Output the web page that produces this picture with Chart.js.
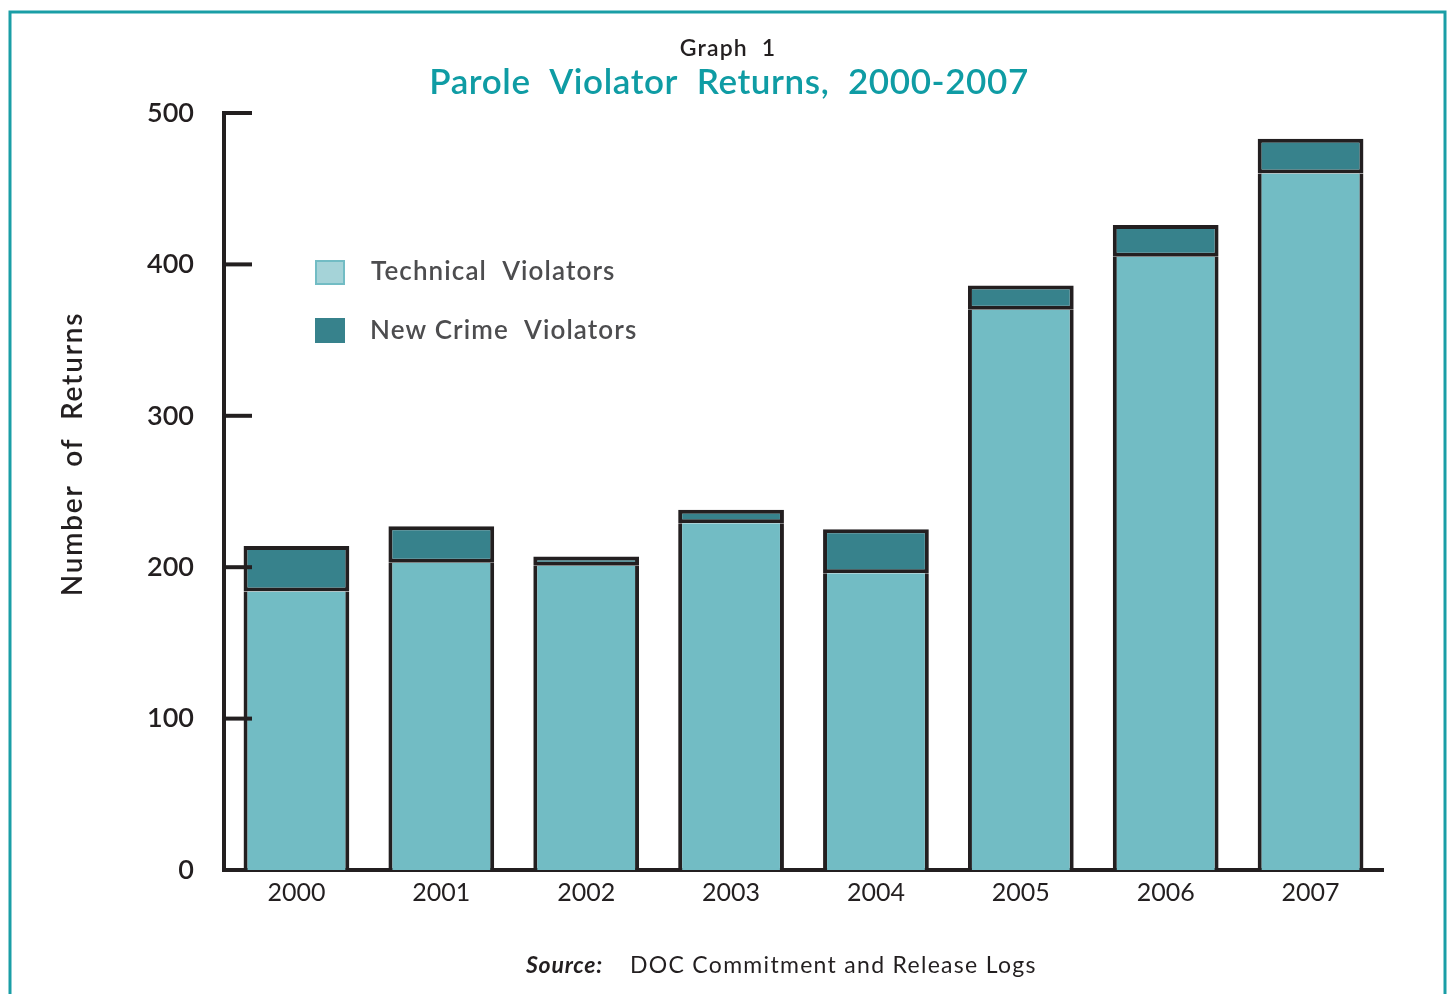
<!DOCTYPE html>
<html>
<head>
<meta charset="utf-8">
<title>Parole Violator Returns, 2000-2007</title>
<script src="https://cdn.jsdelivr.net/npm/chart.js@4.4.1/dist/chart.umd.min.js"></script>
<style>
  html, body { margin: 0; background: #fff; }
  canvas { display: block; }
</style>
</head>
<body>
<canvas id="chart" width="1453" height="994"></canvas>
<script>
const years = ['2000', '2001', '2002', '2003', '2004', '2005', '2006', '2007'];
const technical = [184, 203, 201, 229, 196, 370, 405, 460];
const newCrime = [30, 24, 6, 9, 29, 16, 21, 23];
const yTicks = [0, 100, 200, 300, 400, 500];

const ink = '#231f20';
const techFill = '#72bcc4';
const crimeFill = '#37828c';
const teal = '#0f9ca4';
const font = 'Lato, "Open Sans", sans-serif';

// frame, titles, legend, source line and the inward ticks on the y axis
const decorations = {
  id: 'decorations',
  beforeDraw(chart) {
    const ctx = chart.ctx;
    ctx.save();
    ctx.fillStyle = '#fff';
    ctx.fillRect(0, 0, chart.width, chart.height);
    ctx.strokeStyle = '#1a9ea6';
    ctx.lineWidth = 3;
    ctx.strokeRect(10, 12, 1435, 1000);
    ctx.restore();
  },
  afterDraw(chart) {
    const ctx = chart.ctx;
    const area = chart.chartArea;
    const y = chart.scales.y;
    ctx.save();

    ctx.strokeStyle = ink;
    ctx.lineWidth = 4;
    yTicks.forEach(v => {
      if (v === 0) return;
      const py = y.getPixelForValue(v);
      ctx.beginPath();
      ctx.moveTo(area.left, py);
      ctx.lineTo(area.left + 28, py);
      ctx.stroke();
    });

    ctx.textAlign = 'center';
    ctx.textBaseline = 'middle';
    ctx.fillStyle = ink;
    ctx.font = '600 23px ' + font;
    ctx.letterSpacing = '1.2px';
    ctx.fillText('Graph  1', 728, 49);
    ctx.fillStyle = teal;
    ctx.font = '600 35px ' + font;
    ctx.letterSpacing = '0.6px';
    ctx.fillText('Parole  Violator  Returns,  2000-2007', 729, 83);

    // y axis title
    ctx.save();
    ctx.translate(73, 454);
    ctx.rotate(-Math.PI / 2);
    ctx.fillStyle = ink;
    ctx.font = '600 28px ' + font;
    ctx.letterSpacing = '1.8px';
    ctx.fillText('Number  of  Returns', 0, 0);
    ctx.restore();

    // legend
    const ds = chart.data.datasets;
    ctx.textAlign = 'left';
    ctx.font = '600 26px ' + font;
    ctx.fillStyle = '#a5d3d8';
    ctx.fillRect(315, 260, 30, 25);
    ctx.strokeStyle = ds[0].backgroundColor;
    ctx.lineWidth = 2;
    ctx.strokeRect(316, 261, 28, 23);
    ctx.fillStyle = ds[1].backgroundColor;
    ctx.fillRect(315, 318, 30, 25);
    ctx.fillStyle = '#4d4d4f';
    ctx.letterSpacing = '1.1px';
    ctx.fillText('Technical  Violators', 371, 272);
    ctx.fillText('New Crime  Violators', 370, 331);

    // source line
    ctx.fillStyle = ink;
    ctx.letterSpacing = '0.8px';
    ctx.font = 'italic bold 23px ' + font;
    ctx.fillText('Source:', 526, 966);
    ctx.font = '23px ' + font;
    ctx.letterSpacing = '1.3px';
    ctx.fillText('DOC Commitment and Release Logs', 630, 966);

    ctx.restore();
  }
};

new Chart(document.getElementById('chart'), {
  type: 'bar',
  data: {
    labels: years,
    datasets: [
      {
        label: 'Technical Violators',
        data: technical,
        backgroundColor: techFill,
        borderColor: ink,
        // the dividing line comes from the bottom border of the stacked segment above
        borderWidth: { top: 0, left: 4, right: 4, bottom: 0 },
        borderSkipped: false,
        inflateAmount: 0
      },
      {
        label: 'New Crime Violators',
        data: newCrime,
        backgroundColor: crimeFill,
        borderColor: ink,
        borderWidth: 4,
        borderSkipped: false,
        inflateAmount: 0
      }
    ]
  },
  options: {
    responsive: false,
    animation: false,
    layout: { padding: { left: 0, top: 113, right: 70, bottom: 64 } },
    barPercentage: 0.73,
    categoryPercentage: 1,
    plugins: {
      legend: { display: false },
      title: { display: false },
      tooltip: { enabled: false }
    },
    scales: {
      x: {
        stacked: true,
        grid: { display: false },
        border: { display: true, color: ink, width: 4 },
        ticks: { color: ink, font: { family: font, size: 25 }, padding: 0 },
        afterFit: s => { s.height = 60; }
      },
      y: {
        stacked: true,
        min: 0,
        max: 500,
        grid: { display: false },
        border: { display: true, color: ink, width: 4 },
        ticks: {
          stepSize: 100,
          color: ink,
          font: { family: font, size: 27, weight: '600' },
          padding: 22
        },
        afterFit: s => { s.width = 224; }
      }
    }
  },
  plugins: [decorations]
});
</script>
</body>
</html>
